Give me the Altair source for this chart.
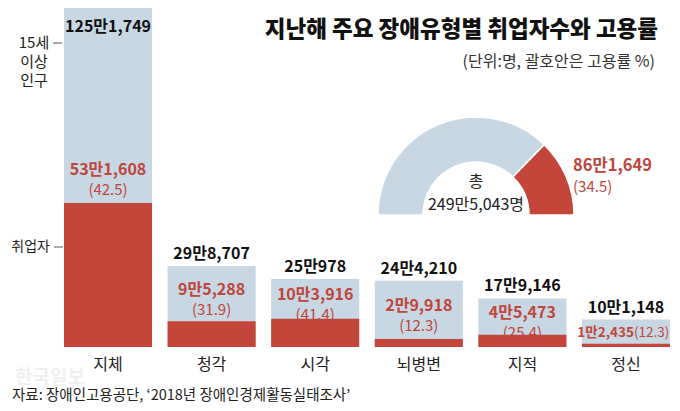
import altair as alt
import pandas as pd
from math import pi

# ---- data ----
cats = ["지체", "청각", "시각", "뇌병변", "지적", "정신"]
population = [1251749, 298707, 250978, 244210, 179146, 101148]
employed = [531608, 95288, 103916, 29918, 45473, 12435]
pop_labels = ["125만1,749", "29만8,707", "25만978", "24만4,210", "17만9,146", "10만1,148"]
emp_labels = ["53만1,608", "9만5,288", "10만3,916", "2만9,918", "4만5,473", "1만2,435"]
rate_labels = ["(42.5)", "(31.9)", "(41.4)", "(12.3)", "(25.4)", "(12.3)"]

arc_parts = ["미취업", "취업"]
arc_share = [74.5, 25.5]  # visual share of the half ring
total_text = ["총", "249만5,043명"]
donut_emp_label = "86만1,649"
donut_rate_label = "(34.5)"

title_text = "지난해 주요 장애유형별 취업자수와 고용률"
subtitle_text = "(단위:명, 괄호안은 고용률 %)"
source_text = "자료: 장애인고용공단,  ‘2018년 장애인경제활동실태조사’"
watermark_text = "한국일보"
left_labels = ["15세", "이상", "인구", "취업자"]

# ---- style ----
FONT = "Noto Sans CJK KR"
BLUE = "#c7d7e4"
RED = "#c4463a"
RED_TXT = "#c0453a"
BLACK = "#111111"

df = pd.DataFrame({
    "cat": cats, "pop": population, "emp": employed,
    "pop_l": pop_labels, "emp_l": emp_labels, "rate_l": rate_labels,
})
df["mid"] = (df["pop"] + df["emp"]) / 2

X = alt.X("cat:N", sort=cats, scale=alt.Scale(paddingInner=0.15, paddingOuter=0), axis=None)
YS = alt.Scale(domain=[0, max(population)], nice=False)

base = alt.Chart(df)

bar_pop = base.mark_bar(color=BLUE).encode(x=X, y=alt.Y("pop:Q", scale=YS, axis=None))
bar_emp = base.mark_bar(color=RED).encode(x=X, y=alt.Y("emp:Q", scale=YS, axis=None))

# total labels
pop_first = base.transform_filter(alt.datum.cat == cats[0]).mark_text(
    font=FONT, fontSize=16, fontWeight="bold", color=BLACK, baseline="middle", dy=19
).encode(x=X, y=alt.Y("pop:Q", scale=YS), text="pop_l:N")
pop_rest = base.transform_filter(alt.datum.cat != cats[0]).mark_text(
    font=FONT, fontSize=16, fontWeight="bold", color=BLACK, baseline="middle", dy=-12
).encode(x=X, y=alt.Y("pop:Q", scale=YS), text="pop_l:N")

# employed labels
first = base.transform_filter(alt.datum.cat == cats[0])
emp_first = first.mark_text(font=FONT, fontSize=16, fontWeight="bold", color=RED_TXT,
                            baseline="middle", dy=-33).encode(
    x=X, y=alt.Y("emp:Q", scale=YS), text="emp_l:N")
rate_first = first.mark_text(font=FONT, fontSize=15, color=RED_TXT,
                             baseline="middle", dy=-13).encode(
    x=X, y=alt.Y("emp:Q", scale=YS), text="rate_l:N")

middle = base.transform_filter(alt.FieldOneOfPredicate(field="cat", oneOf=cats[1:5]))
emp_mid = middle.mark_text(font=FONT, fontSize=16, fontWeight="bold", color=RED_TXT,
                           baseline="middle", dy=-4).encode(
    x=X, y=alt.Y("mid:Q", scale=YS), text="emp_l:N")
rate_mid = middle.mark_text(font=FONT, fontSize=15, color=RED_TXT,
                            baseline="middle", dy=16).encode(
    x=X, y=alt.Y("mid:Q", scale=YS), text="rate_l:N")

last = base.transform_filter(alt.datum.cat == cats[5])
emp_last = last.mark_text(font=FONT, fontSize=13.5, fontWeight="bold", color=RED_TXT,
                          baseline="middle", align="right", dx=8, dy=1).encode(
    x=X, y=alt.Y("mid:Q", scale=YS), text="emp_l:N")
rate_last = last.mark_text(font=FONT, fontSize=13.5, color=RED_TXT,
                           baseline="middle", align="left", dx=8, dy=1).encode(
    x=X, y=alt.Y("mid:Q", scale=YS), text="rate_l:N")

cat_labels = base.mark_text(font=FONT, fontSize=16, color="#222222", baseline="middle").encode(
    x=X, y=alt.value(357), text="cat:N")

# ---- half ring ----
arc_df = pd.DataFrame({"part": arc_parts, "share": arc_share, "idx": [0, 1]})
ring = alt.Chart(arc_df).mark_arc(outerRadius=98, innerRadius=53, stroke="white", strokeWidth=1.5).encode(
    theta=alt.Theta("share:Q", stack=True, scale=alt.Scale(range=[-pi / 2, pi / 2])),
    color=alt.Color("part:N", scale=alt.Scale(domain=arc_parts, range=[BLUE, RED]), legend=None),
    order=alt.Order("idx:Q"),
    x=alt.value(412), y=alt.value(207),
)

one = alt.Data(values=[{}])


def label(text, x, y, size, weight="normal", color=BLACK, align="center"):
    return alt.Chart(one).mark_text(
        text=text, font=FONT, fontSize=size, fontWeight=weight, color=color,
        align=align, baseline="middle"
    ).encode(x=alt.value(x), y=alt.value(y))


texts = [
    label(total_text[0], 412, 174, 16, color="#222222"),
    label(total_text[1], 412, 197, 16, color="#222222"),
    label(donut_emp_label, 509, 158, 16.5, "bold", RED_TXT, "left"),
    label(donut_rate_label, 509, 179, 15, "normal", RED_TXT, "left"),
    label(title_text, 594, 22, 22.5, 900, BLACK, "right"),
    label(subtitle_text, 591, 54, 16, "normal", "#333333", "right"),
    label(watermark_text, -49, 370, 19, "bold", "#f0f0f0", "left"),
    label(source_text, -52, 388, 14.5, "normal", "#222222", "left"),
    label(left_labels[0], -30, 35, 15, color="#222222"),
    label(left_labels[1], -30, 54, 15, color="#222222"),
    label(left_labels[2], -30, 73, 15, color="#222222"),
    label(left_labels[3], -14, 239, 14, color="#222222", align="right"),
]

rules = [
    alt.Chart(one).mark_rule(color="#555555", strokeWidth=1).encode(
        x=alt.value(-11), x2=alt.value(-2), y=alt.value(35)),
    alt.Chart(one).mark_rule(color="#555555", strokeWidth=1).encode(
        x=alt.value(-10), x2=alt.value(-1), y=alt.value(239)),
]

chart = alt.layer(
    bar_pop, bar_emp, ring,
    pop_first, pop_rest, emp_first, rate_first, emp_mid, rate_mid, emp_last, rate_last,
    cat_labels, *texts, *rules,
).resolve_scale(color="independent").properties(
    width=606, height=339,
    padding={"left": 56, "top": 0, "right": 2, "bottom": 56},
    autosize=alt.AutoSizeParams(type="none"),
    background="white",
).configure_view(stroke=None)

chart.save("out.html", embed_options={"renderer": "svg", "actions": False})
